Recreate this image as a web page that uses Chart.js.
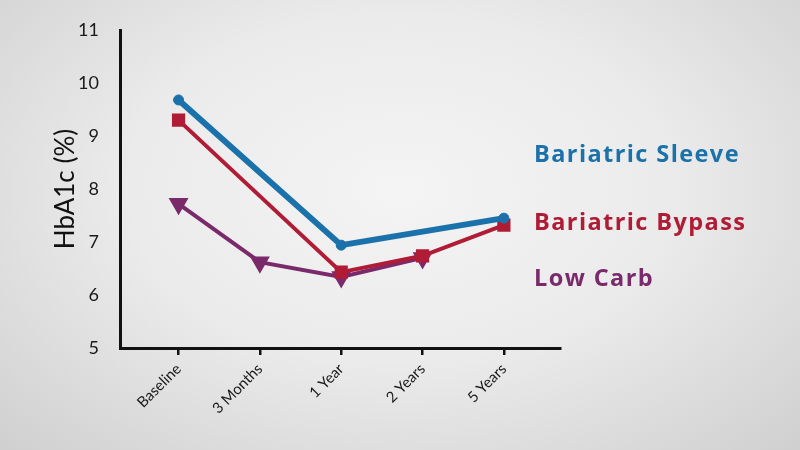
<!DOCTYPE html>
<html>
<head>
<meta charset="utf-8">
<script src="https://cdn.jsdelivr.net/npm/chart.js@4.4.1/dist/chart.umd.min.js"></script>
<style>
  html, body { margin: 0; padding: 0; }
  body {
    width: 800px; height: 450px; overflow: hidden;
    background: radial-gradient(ellipse 75% 85% at 50% 42%, #f4f4f4 0%, #ebebeb 45%, #cdcdcd 100%);
  }
  #wrap { position: relative; width: 800px; height: 450px; }
</style>
</head>
<body>
<div id="wrap"><canvas id="chart" width="800" height="450"></canvas></div>
<script>
const timepoints = ['Baseline', '3 Months', '1 Year', '2 Years', '5 Years'];
const seriesNames = ['Bariatric Sleeve', 'Bariatric Bypass', 'Low Carb'];
const sleeve = [9.68, null, 6.94, null, 7.45];
const bypass = [9.3, null, 6.43, 6.74, 7.32];
const lowCarb = [7.72, 6.62, 6.34, 6.7, null];
const yTicks = [5, 6, 7, 8, 9, 10, 11];

const colors = ['#1b72ab', '#b01b35', '#7a2a6a'];

function points(values) {
  return values.map((v, i) => ({ x: i, y: v }));
}

// series names drawn beside the lines, like the original
const sideLabels = {
  id: 'sideLabels',
  afterDraw(chart) {
    const ctx = chart.ctx;
    const ys = [155, 223, 279];
    ctx.save();
    ctx.font = 'bold 23.5px "Open Sans"';
    ctx.textBaseline = 'middle';
    // letter spacing so "Bariatric Sleeve" spans about 206px
    const w = ctx.measureText(seriesNames[0]).width;
    ctx.letterSpacing = Math.max(0, (206 - w) / seriesNames[0].length).toFixed(2) + 'px';
    seriesNames.forEach((name, i) => {
      ctx.fillStyle = colors[i];
      ctx.fillText(name, 534, ys[i]);
    });
    ctx.restore();
  }
};

new Chart(document.getElementById('chart'), {
  type: 'line',
  data: {
    datasets: [
      {
        label: seriesNames[0], data: points(sleeve), borderColor: colors[0], backgroundColor: colors[0],
        borderWidth: 6, pointStyle: 'circle', pointRadius: 5, pointBorderWidth: 1, spanGaps: true
      },
      {
        label: seriesNames[1], data: points(bypass), borderColor: colors[1], backgroundColor: colors[1],
        borderWidth: 4, pointStyle: 'rect', pointRadius: 6.5, spanGaps: true
      },
      {
        label: seriesNames[2], data: points(lowCarb), borderColor: colors[2], backgroundColor: colors[2],
        borderWidth: 4, pointStyle: 'triangle', pointRotation: 180, pointRadius: 7.5, spanGaps: true
      }
    ]
  },
  options: {
    responsive: false,
    animation: false,
    layout: { padding: { top: 30, right: 240, left: 0, bottom: 0 } },
    plugins: { legend: { display: false }, tooltip: { enabled: false } },
    scales: {
      x: {
        type: 'linear',
        min: -0.72,
        max: 4.69,
        afterBuildTicks(scale) { scale.ticks = timepoints.map((t, i) => ({ value: i })); },
        afterFit(scale) { scale.height = 102; },
        border: { display: true, color: '#111', width: 3 },
        grid: { drawOnChartArea: false, drawTicks: true, tickLength: 7, color: '#111', lineWidth: 2.5 },
        ticks: {
          autoSkip: false, maxRotation: 45, minRotation: 45, padding: 5,
          color: '#1a1a1a', font: { family: 'Lato', size: 15 },
          callback: (v) => timepoints[v]
        }
      },
      y: {
        min: 5,
        max: 11,
        afterBuildTicks(scale) { scale.ticks = yTicks.map(v => ({ value: v })); },
        afterFit(scale) { scale.width = 120; },
        border: { display: true, color: '#111', width: 3 },
        grid: { display: false },
        ticks: { padding: 13, color: '#1a1a1a', font: { family: 'Lato', size: 18 } },
        title: {
          display: true, text: 'HbA1c (%)', color: '#111',
          font: { family: 'Lato', size: 26 }, padding: { top: 50, bottom: 0 }
        }
      }
    }
  },
  plugins: [sideLabels]
});
</script>
</body>
</html>
